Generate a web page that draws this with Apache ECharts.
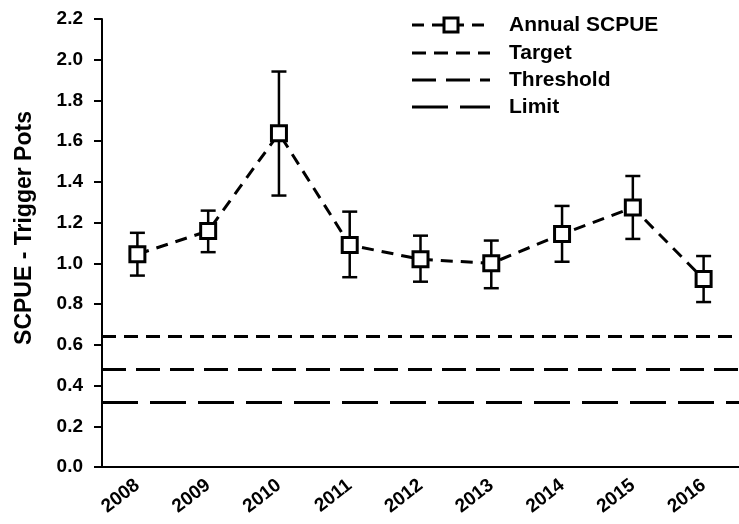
<!DOCTYPE html>
<html>
<head>
<meta charset="utf-8">
<script src="https://cdn.jsdelivr.net/npm/echarts@6/dist/echarts.min.js"></script>
<style>html,body{margin:0;padding:0;background:#fff}#c{width:739px;height:524px}</style>
</head>
<body>
<div id="c"></div>
<script>
var years = ['2008','2009','2010','2011','2012','2013','2014','2015','2016'];
var scpue = [1.045, 1.159, 1.639, 1.09, 1.02, 1.0, 1.144, 1.274, 0.923];
var errLow = [0.94, 1.055, 1.333, 0.932, 0.91, 0.878, 1.008, 1.12, 0.81];
var errHigh = [1.15, 1.259, 1.942, 1.254, 1.136, 1.112, 1.282, 1.429, 1.036];
var targetValue = 0.64;
var thresholdValue = 0.48;
var limitValue = 0.32;
var yTicks = ['0.0','0.2','0.4','0.6','0.8','1.0','1.2','1.4','1.6','1.8','2.0','2.2'];
var legendNames = ['Annual SCPUE', 'Target', 'Threshold', 'Limit'];

var FONT = '"Liberation Sans", Arial, sans-serif';
var DASH = { scpue: [12, 8], target: [14, 8], threshold: [24, 10], limit: [36, 12] };
var errData = years.map(function (y, i) { return [i, errLow[i], errHigh[i]]; });

function refSeries(name, value, dash) {
  return {
    name: name, type: 'line', data: [], symbol: 'none',
    markLine: {
      silent: true, symbol: 'none', label: { show: false },
      lineStyle: { color: '#000', width: 3, type: dash },
      data: [{ yAxis: value }]
    }
  };
}

// legend drawn as graphic (line sample + text)
var legendDashes = [DASH.scpue, DASH.target, DASH.threshold, DASH.limit];
var legendRowsY = [25, 53, 80, 107];
var legendGraphics = [];
legendNames.forEach(function (nm, i) {
  var y = legendRowsY[i];
  legendGraphics.push({ type: 'line', shape: { x1: 412, y1: y, x2: 490, y2: y },
    style: { stroke: '#000', lineWidth: 3, lineDash: legendDashes[i] } });
  if (i === 0) {
    legendGraphics.push({ type: 'rect', shape: { x: 444, y: y - 7, width: 14, height: 14 },
      style: { fill: '#fff', stroke: '#000', lineWidth: 3 } });
  }
  legendGraphics.push({ type: 'text', x: 509, y: y,
    style: { text: nm, fontFamily: FONT, fontWeight: 'bold', fontSize: 21, fill: '#000', verticalAlign: 'middle', align: 'left' } });
});

var chart = echarts.init(document.getElementById('c'));
chart.setOption({
  animation: false,
  backgroundColor: '#fff',
  grid: { left: 102, right: -2, top: 19, bottom: 57, containLabel: false },
  graphic: legendGraphics,
  xAxis: {
    type: 'category', data: years, boundaryGap: true,
    axisLine: { lineStyle: { color: '#000', width: 2 } },
    axisTick: { alignWithLabel: true, length: 7, lineStyle: { color: '#000', width: 2 } },
    axisLabel: { rotate: 38, margin: 16, color: '#000', fontFamily: FONT, fontWeight: 'bold', fontSize: 19, interval: 0 },
    splitLine: { show: false }
  },
  yAxis: {
    type: 'value', min: 0, max: 2.2, interval: 0.2,
    name: 'SCPUE - Trigger Pots', nameLocation: 'middle', nameGap: 66, nameRotate: 90,
    nameTextStyle: { fontFamily: FONT, fontWeight: 'bold', fontSize: 23, color: '#000', padding: [0, 0, 0, 30] },
    axisLine: { show: true, lineStyle: { color: '#000', width: 2 } },
    axisTick: { show: true, length: 8, lineStyle: { color: '#000', width: 2 } },
    axisLabel: { margin: 19, color: '#000', fontFamily: FONT, fontWeight: 'bold', fontSize: 19,
      formatter: function (v) { return yTicks[Math.round(v / 0.2)] || v.toFixed(1); } },
    splitLine: { show: false }
  },
  series: [
    {
      name: 'errors', type: 'custom', data: errData, z: 3,
      renderItem: function (params, api) {
        var x = api.value(0);
        var lo = api.coord([x, api.value(1)]);
        var hi = api.coord([x, api.value(2)]);
        var hw = 7.5;
        var st = { stroke: '#000', lineWidth: 2.5, fill: null };
        return { type: 'group', children: [
          { type: 'line', shape: { x1: lo[0], y1: lo[1], x2: hi[0], y2: hi[1] }, style: st },
          { type: 'line', shape: { x1: lo[0] - hw, y1: lo[1], x2: lo[0] + hw, y2: lo[1] }, style: st },
          { type: 'line', shape: { x1: hi[0] - hw, y1: hi[1], x2: hi[0] + hw, y2: hi[1] }, style: st }
        ]};
      }
    },
    {
      name: 'Annual SCPUE', type: 'line', data: scpue, z: 4,
      symbol: 'rect', symbolSize: 15, showAllSymbol: true,
      lineStyle: { color: '#000', width: 3, type: DASH.scpue },
      itemStyle: { color: '#fff', borderColor: '#000', borderWidth: 3 }
    },
    refSeries('Target', targetValue, DASH.target),
    refSeries('Threshold', thresholdValue, DASH.threshold),
    refSeries('Limit', limitValue, DASH.limit)
  ]
});
</script>
</body>
</html>
